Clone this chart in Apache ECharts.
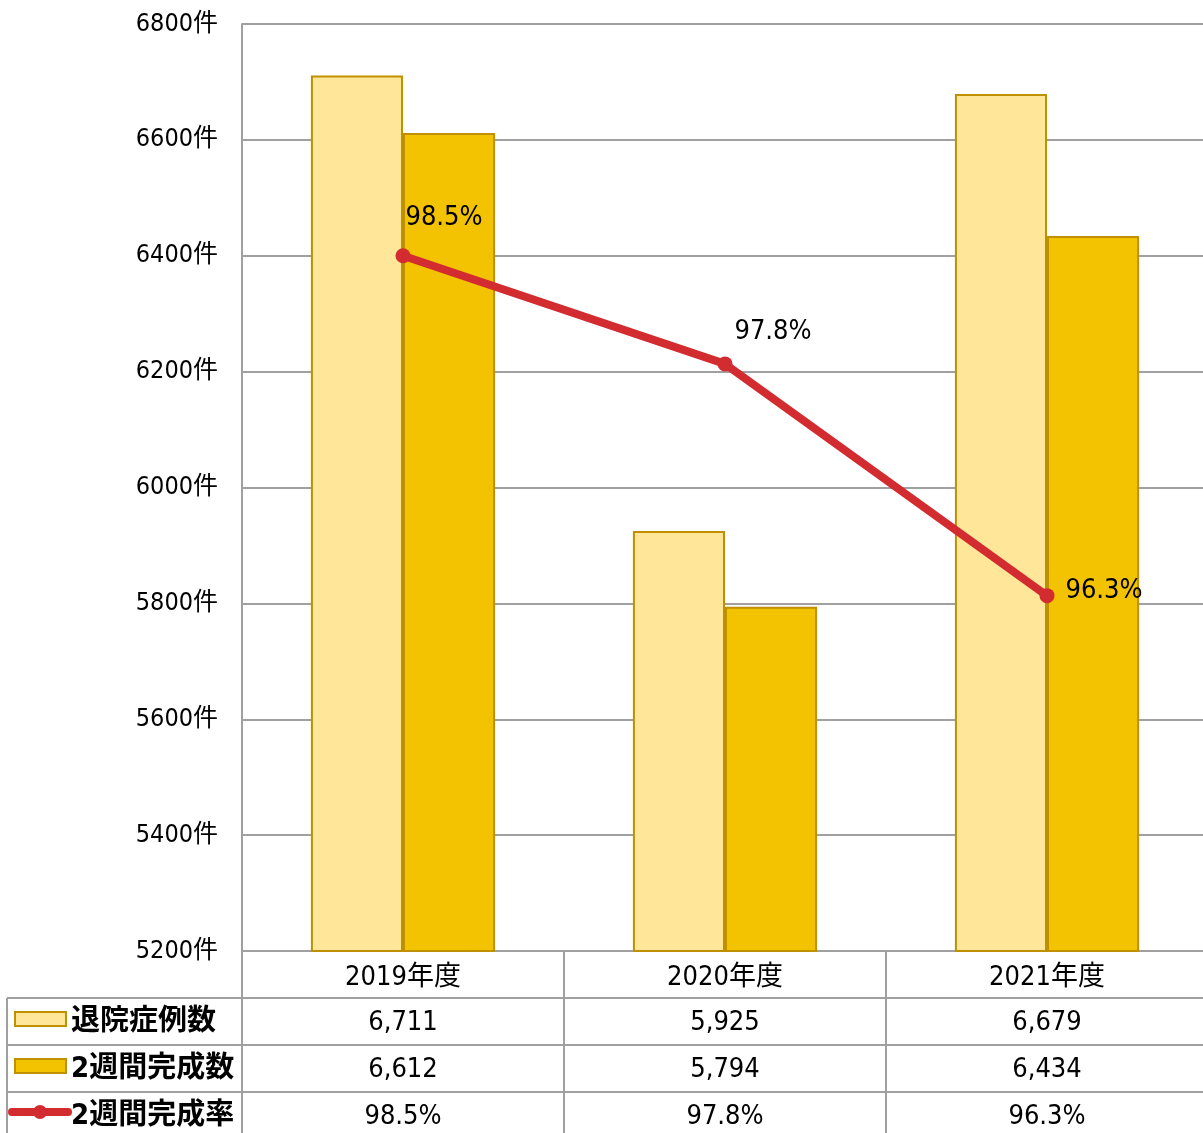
<!DOCTYPE html>
<html>
<head>
<meta charset="utf-8">
<script src="https://cdn.jsdelivr.net/npm/echarts@6/dist/echarts.min.js"></script>
<style>
    html, body { margin: 0; padding: 0; background: #fff; overflow: hidden; }
    #main { width: 1208px; height: 1133px; }
</style>
</head>
<body>
<div id="main"></div>
<script>
    var years = ['2019年度', '2020年度', '2021年度'];
    var discharges = [6711, 5925, 6679];
    var completed = [6612, 5794, 6434];
    var rates = [98.5, 97.8, 96.3];
    var names = ['退院症例数', '2週間完成数', '2週間完成率'];

    var FONT = '"DejaVu Sans Condensed", "Noto Sans CJK JP", sans-serif';
    var GRAY = '#a0a0a0';
    var LIGHT = '#ffe699';
    var GOLD = '#f3c200';
    var EDGE = '#bf9000';
    var RED = '#d22b30';

    // where the rate labels sit next to their points
    var labelOffsets = [[41, -12], [48, -6], [57, 21]];

    var fmt = function (v) { return v.toLocaleString('en-US'); };

    var option = {
        animation: false,
        textStyle: { fontFamily: FONT },
        grid: { left: 242, right: 0, top: 24, bottom: 182 },
        xAxis: {
            type: 'category',
            data: years,
            axisLine: { lineStyle: { color: GRAY, width: 2 } },
            axisTick: { show: false },
            axisLabel: { color: '#000', fontSize: 27, fontFamily: FONT, margin: 13 }
        },
        yAxis: [{
            type: 'value',
            min: 5200,
            max: 6800,
            interval: 200,
            axisLine: { show: true, lineStyle: { color: GRAY, width: 2 } },
            axisTick: { show: false },
            splitLine: { lineStyle: { color: GRAY, width: 2 } },
            axisLabel: {
                color: '#000', fontSize: 25, fontFamily: FONT, margin: 24,
                padding: [9, 0, 0, 0],
                formatter: function (v) { return v + '件'; }
            }
        }, {
            type: 'value',
            min: 94,
            max: 100,
            show: false,
            splitLine: { show: false }
        }],
        series: [{
            name: names[0],
            type: 'bar',
            data: discharges,
            barGap: '0%',
            barCategoryGap: '42.8%',
            itemStyle: { color: LIGHT, borderColor: EDGE, borderWidth: 2 }
        }, {
            name: names[1],
            type: 'bar',
            data: completed,
            itemStyle: { color: GOLD, borderColor: EDGE, borderWidth: 2 }
        }, {
            name: names[2],
            type: 'line',
            yAxisIndex: 1,
            z: 5,
            data: rates.map(function (v, i) {
                return { value: v, label: { offset: labelOffsets[i] } };
            }),
            symbol: 'circle',
            symbolSize: 15,
            itemStyle: { color: RED },
            lineStyle: { color: RED, width: 8 },
            label: {
                show: true,
                position: 'top',
                color: '#000',
                fontSize: 27,
                fontFamily: FONT,
                formatter: function (p) { return p.value.toFixed(1) + '%'; }
            }
        }]
    };

    var chart = echarts.init(document.getElementById('main'));
    chart.setOption(option);

    // data table under the plot
    var rowTop = 998, rowH = 47;
    var left = 7, gridLeft = 242, right = 1208;
    var catW = (right - gridLeft) / years.length;
    var rows = [discharges.map(fmt), completed.map(fmt), rates.map(function (v) { return v.toFixed(1) + '%'; })];
    var g = [];
    var line = function (x1, y1, x2, y2) {
        g.push({ type: 'line', shape: { x1: x1, y1: y1, x2: x2, y2: y2 }, style: { stroke: GRAY, lineWidth: 2 } });
    };
    for (var r = 0; r <= rows.length; r++) {
        line(left, rowTop + r * rowH, right, rowTop + r * rowH);
    }
    line(left, rowTop, left, 1133);
    line(gridLeft, 951, gridLeft, 1133);
    for (var c = 1; c < years.length; c++) {
        line(gridLeft + c * catW, 951, gridLeft + c * catW, 1133);
    }
    rows.forEach(function (row, r) {
        var cy = rowTop + r * rowH + rowH / 2 + 1;
        row.forEach(function (txt, i) {
            var cx = chart.convertToPixel({ xAxisIndex: 0 }, i);
            g.push({ type: 'text', x: cx, y: cy, style: { text: txt, font: '27px ' + FONT, fill: '#000', align: 'center', verticalAlign: 'middle' } });
        });
        g.push({ type: 'text', x: 71, y: cy, style: { text: names[r], font: 'bold 29px ' + FONT, fill: '#000', align: 'left', verticalAlign: 'middle' } });
    });
    // legend keys
    g.push({ type: 'rect', shape: { x: 15, y: rowTop + 14, width: 51, height: 14 }, style: { fill: LIGHT, stroke: EDGE, lineWidth: 2 } });
    g.push({ type: 'rect', shape: { x: 15, y: rowTop + rowH + 14, width: 51, height: 14 }, style: { fill: GOLD, stroke: EDGE, lineWidth: 2 } });
    var ly = rowTop + 2 * rowH + 20;
    g.push({ type: 'line', shape: { x1: 12, y1: ly, x2: 68, y2: ly }, style: { stroke: RED, lineWidth: 8, lineCap: 'round' } });
    g.push({ type: 'circle', shape: { cx: 40, cy: ly, r: 7 }, style: { fill: RED } });

    chart.setOption({ graphic: g });
</script>
</body>
</html>
